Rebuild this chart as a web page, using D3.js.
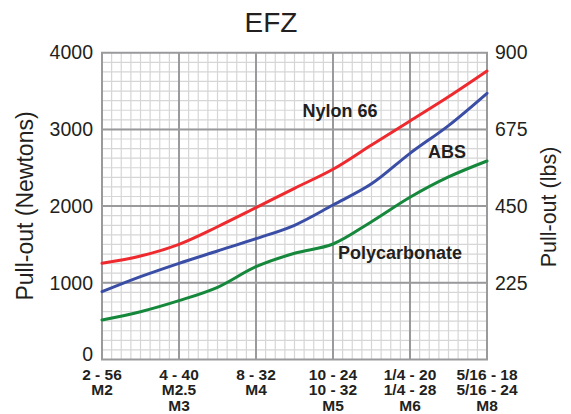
<!DOCTYPE html>
<html>
<head>
<meta charset="utf-8">
<script src="https://cdn.jsdelivr.net/npm/d3@7"></script>
<style>
  html, body { margin: 0; padding: 0; background: #fff; }
  svg { display: block; font-family: "Liberation Sans", Arial, sans-serif; }
</style>
</head>
<body>
<svg id="chart" width="571" height="414"></svg>
<script>
// Screw sizes along the x axis (each entry is a stack of lines)
const sizeLabels = [
  ["2 - 56", "M2"],
  ["4 - 40", "M2.5", "M3"],
  ["8 - 32", "M4"],
  ["10 - 24", "10 - 32", "M5"],
  ["1/4 - 20", "1/4 - 28", "M6"],
  ["5/16 - 18", "5/16 - 24", "M8"]
];
// Positions of the readings, in size steps (half steps between sizes)
const steps = [0, 0.5, 1, 1.5, 2, 2.5, 3, 3.5, 4, 4.5, 5];
// Pull-out force in Newtons
const nylon66 = [1254, 1349, 1502, 1731, 1980, 2232, 2480, 2797, 3110, 3425, 3761];
const abs = [884, 1080, 1254, 1415, 1575, 1750, 2014, 2290, 2688, 3050, 3471];
const polycarbonate = [515, 623, 767, 941, 1210, 1385, 1506, 1797, 2115, 2380, 2588];
// Axis ticks
const newtonTicks = [0, 1000, 2000, 3000, 4000];
const lbsTicks = [225, 450, 675, 900];

const series = [
  { name: "Nylon 66", values: nylon66, color: "#ee2a2e", label: [340, 111] },
  { name: "ABS", values: abs, color: "#3a4ea6", label: [447, 152] },
  { name: "Polycarbonate", values: polycarbonate, color: "#15883c", label: [400, 253] }
];

const svg = d3.select("#chart");
const plotLeft = 102, plotRight = 487, plotTop = 52.7, plotBottom = 359.5;

const x = d3.scaleLinear().domain([0, 5]).range([plotLeft, plotRight]);
const y = d3.scaleLinear().domain([0, 4000]).range([plotBottom, plotTop]);
const yLbs = d3.scaleLinear().domain([0, 900]).range([plotBottom, plotTop]);

// Minor grid
const g = svg.append("g");
const minorX = d3.range(0, 5 + 1e-9, 1 / 8);
const minorY = d3.range(0, 4000 + 1e-9, 125);
g.selectAll("line.mx").data(minorX).join("line").attr("class", "mx")
  .attr("x1", d => x(d)).attr("x2", d => x(d))
  .attr("y1", plotTop).attr("y2", plotBottom)
  .attr("stroke", "#d6d6d6").attr("stroke-width", 1.2);
g.selectAll("line.my").data(minorY).join("line").attr("class", "my")
  .attr("y1", d => y(d)).attr("y2", d => y(d))
  .attr("x1", plotLeft).attr("x2", plotRight)
  .attr("stroke", "#d6d6d6").attr("stroke-width", 1.2);

// Major grid
g.selectAll("line.Mx").data(d3.range(0, 6)).join("line").attr("class", "Mx")
  .attr("x1", d => x(d)).attr("x2", d => x(d))
  .attr("y1", plotTop).attr("y2", plotBottom)
  .attr("stroke", "#9a9a9c").attr("stroke-width", 2);
g.selectAll("line.My").data(newtonTicks).join("line").attr("class", "My")
  .attr("y1", d => y(d)).attr("y2", d => y(d))
  .attr("x1", plotLeft - 1).attr("x2", plotRight + 1)
  .attr("stroke", "#9a9a9c").attr("stroke-width", 2);

// Left axis (Newtons)
const yAxis = d3.axisLeft(y).tickValues(newtonTicks).tickFormat(d3.format("d"))
  .tickSize(0).tickPadding(9);
const ya = svg.append("g").attr("transform", `translate(${plotLeft},0)`).call(yAxis);
ya.select(".domain").remove();
ya.selectAll("text").attr("font-size", 19.5).attr("fill", "#231f20")
  .attr("font-family", "Liberation Sans, Arial, sans-serif");
// the zero label sits a little above its line, clear of the size labels
ya.selectAll(".tick").filter(d => d === 0).select("text").attr("y", -5);

// Right axis (lbs)
const yAxisR = d3.axisRight(yLbs).tickValues(lbsTicks).tickFormat(d3.format("d"))
  .tickSize(0).tickPadding(8);
const yr = svg.append("g").attr("transform", `translate(${plotRight},0)`).call(yAxisR);
yr.select(".domain").remove();
yr.selectAll("text").attr("font-size", 19.5).attr("fill", "#231f20")
  .attr("font-family", "Liberation Sans, Arial, sans-serif");

// Bottom labels
const xl = svg.append("g");
sizeLabels.forEach((lines, i) => {
  const t = xl.append("text")
    .attr("x", x(i)).attr("y", 379.5)
    .attr("text-anchor", "middle")
    .attr("font-size", 15.5).attr("font-weight", "bold").attr("fill", "#231f20");
  lines.forEach((s, k) => {
    t.append("tspan").attr("x", x(i)).attr("dy", k === 0 ? 0 : 15.5).text(s);
  });
});

// Curves
const line = d3.line()
  .x((d, i) => x(steps[i]))
  .y(d => y(d))
  .curve(d3.curveCatmullRom.alpha(0.5));
series.forEach(s => {
  svg.append("path")
    .attr("d", line(s.values))
    .attr("fill", "none")
    .attr("stroke", s.color)
    .attr("stroke-width", 3)
    .attr("stroke-linecap", "round");
});

// Series names
series.forEach(s => {
  svg.append("text")
    .attr("x", s.label[0]).attr("y", s.label[1])
    .attr("text-anchor", "middle").attr("dominant-baseline", "central")
    .attr("font-size", 18).attr("font-weight", "bold").attr("fill", "#231f20")
    .text(s.name);
});

// Title
svg.append("text")
  .attr("x", 271).attr("y", 32)
  .attr("text-anchor", "middle")
  .attr("font-size", 28).attr("fill", "#231f20")
  .text("EFZ");

// Axis titles
svg.append("text")
  .attr("transform", `translate(33,206) rotate(-90)`)
  .attr("text-anchor", "middle")
  .attr("font-size", 23).attr("fill", "#231f20")
  .text("Pull-out (Newtons)");
svg.append("text")
  .attr("transform", `translate(556,207) rotate(-90)`)
  .attr("text-anchor", "middle")
  .attr("font-size", 21.5).attr("fill", "#231f20")
  .text("Pull-out (lbs)");
</script>
</body>
</html>
